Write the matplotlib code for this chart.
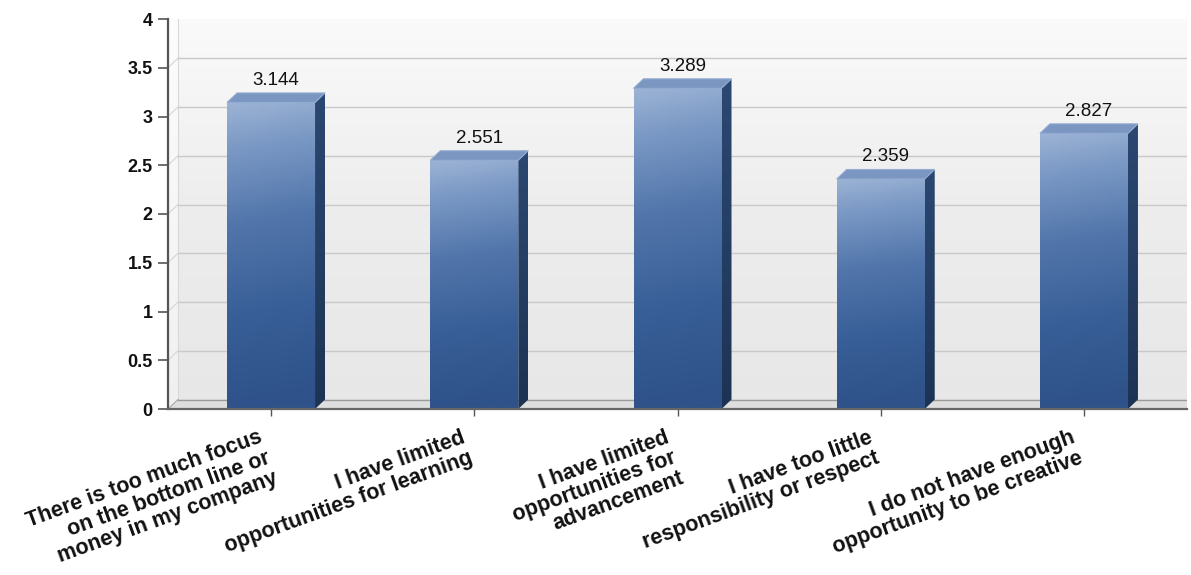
import numpy as np
import matplotlib
matplotlib.use("Agg")
import matplotlib.pyplot as plt
from matplotlib.patches import Polygon
from matplotlib.colors import LinearSegmentedColormap
from matplotlib.transforms import ScaledTranslation

categories = [
    "There is too much focus\non the bottom line or\nmoney in my company",
    "I have limited\nopportunities for learning",
    "I have limited\nopportunities for\nadvancement",
    "I have too little\nresponsibility or respect",
    "I do not have enough\nopportunity to be creative",
]
values = [3.144, 2.551, 3.289, 2.359, 2.827]
value_labels = ["3.144", "2.551", "3.289", "2.359", "2.827"]
y_ticks = [0, 0.5, 1, 1.5, 2, 2.5, 3, 3.5, 4]
y_tick_labels = ["0", "0.5", "1", "1.5", "2", "2.5", "3", "3.5", "4"]

W, H = 1191, 575
fig = plt.figure(figsize=(W / 100, H / 100), dpi=100)
left_px, right_px, bottom_px, top_px = 168, 1187, 409, 19
ax = fig.add_axes([left_px / W, 1 - bottom_px / H,
                   (right_px - left_px) / W, (bottom_px - top_px) / H])

xmin, xmax = -0.507, 4.507
ax.set_xlim(xmin, xmax)
ax.set_ylim(0, 4)
ax.set_facecolor("white")

# pixel scale of the data axes, used for the pseudo-3D depth offset
px_x = (right_px - left_px) / (xmax - xmin)
px_y = (bottom_px - top_px) / 4.0
dx = 10 / px_x
dy = 9.5 / px_y
bar_w = 88 / px_x

# back wall with a soft vertical gradient
wall_cmap = LinearSegmentedColormap.from_list("wall", ["#e7e7e7", "#ededed", "#fbfbfb"])
grad = np.linspace(0, 1, 256).reshape(-1, 1)
ax.imshow(grad, cmap=wall_cmap, origin="lower", aspect="auto",
          extent=(xmin, xmax, 0, 4 + dy), zorder=0.1, clip_on=True)
ax.imshow(grad, cmap=LinearSegmentedColormap.from_list("lstrip", ["#f0f0f0", "#fdfdfd"]),
          origin="lower", aspect="auto", extent=(xmin, xmin + dx, 0, 4 + dy), zorder=0.15)
ax.plot([xmin + dx, xmin + dx], [dy, 4 + dy], color="#d8d8d8", lw=0.8, zorder=0.3)

# floor
floor = Polygon([(xmin, 0), (xmin + dx, dy), (xmax, dy), (xmax, 0)],
                closed=True, facecolor="#dedede", edgecolor="none", zorder=0.4)
ax.add_patch(floor)
ax.plot([xmin, xmin + dx], [0, dy], color="#a8a8a8", lw=0.8, zorder=0.5)
ax.plot([xmin + dx, xmax], [dy, dy], color="#9a9a9a", lw=1.0, zorder=0.5)

# grid lines on the back wall, with short diagonals to the axis
for t in y_ticks[1:-1]:
    ax.plot([xmin + dx, xmax], [t + dy, t + dy], color="#c9c9c9", lw=1.0, zorder=0.5)
    ax.plot([xmin, xmin + dx], [t, t + dy], color="#d6d6d6", lw=0.8, zorder=0.5)

front_cmap = LinearSegmentedColormap.from_list(
    "front", [(0.0, "#2e5289"), (0.3, "#395f98"), (0.6, "#5276ab"),
              (0.85, "#7b99c5"), (1.0, "#9cb3d5")])
side_cmap = LinearSegmentedColormap.from_list("side", ["#1d3354", "#2b4872"])
hgrad = np.linspace(0, 1, 64)

for i, (v, lab) in enumerate(zip(values, value_labels)):
    x0, x1 = i - bar_w / 2, i + bar_w / 2
    # front face: vertical gradient with a slight horizontal shading
    img = np.linspace(0, 1, 256).reshape(-1, 1) - 0.05 * hgrad.reshape(1, -1)
    im = ax.imshow(np.clip(img, 0, 1), cmap=front_cmap, origin="lower", aspect="auto",
                   extent=(x0, x1, 0, v), zorder=2, vmin=0, vmax=1)
    front = Polygon([(x0, 0), (x1, 0), (x1, v), (x0, v)], closed=True,
                    facecolor="none", edgecolor="none")
    ax.add_patch(front)
    im.set_clip_path(front)
    # side face
    side_pts = [(x1, 0), (x1 + dx, dy), (x1 + dx, v + dy), (x1, v)]
    sim = ax.imshow(grad, cmap=side_cmap, origin="lower", aspect="auto",
                    extent=(x1, x1 + dx, 0, v + dy), zorder=2)
    side = Polygon(side_pts, closed=True, facecolor="none", edgecolor="none")
    ax.add_patch(side)
    sim.set_clip_path(side)
    # top face
    top = Polygon([(x0, v), (x0 + dx, v + dy), (x1 + dx, v + dy), (x1, v)],
                  closed=True, facecolor="#7a96c1", edgecolor="#93acd1", lw=0.8, zorder=2.1)
    ax.add_patch(top)
    ax.text(i + dx / 2, v + dy + 4 / px_y, lab, ha="center", va="bottom",
            fontsize=13.5, family="Liberation Sans", color="#111111", zorder=3)

# axes, ticks and labels
for s in ["top", "right"]:
    ax.spines[s].set_visible(False)
ax.spines["left"].set_color("#555555")
ax.spines["left"].set_linewidth(1.6)
ax.spines["bottom"].set_color("#666666")
ax.spines["bottom"].set_linewidth(1.6)
ax.spines["left"].set_zorder(4)
ax.spines["bottom"].set_zorder(4)

ax.set_yticks(y_ticks)
ax.set_yticklabels(y_tick_labels, fontsize=13, fontweight="bold",
                   family="Liberation Sans", color="#111111")
ax.tick_params(axis="y", direction="out", length=7, width=1.2, color="#555555", pad=4)

ax.set_xticks(range(len(categories)))
ax.set_xticklabels([""] * len(categories))
ax.tick_params(axis="x", direction="out", length=5, width=1.0, color="#555555")

# rotated category labels, top-right corner just below each tick
label_tf = ax.get_xaxis_transform() + ScaledTranslation(-13 / 100, -18 / 100, fig.dpi_scale_trans)
for i, cat in enumerate(categories):
    ax.text(i, 0, cat, transform=label_tf, rotation=20, rotation_mode="anchor",
            ha="right", va="top", multialignment="right",
            fontsize=15.5, fontweight="bold", family="Liberation Sans",
            color="#111111", linespacing=1.05, clip_on=False)

fig.savefig("out.png", dpi=100)
